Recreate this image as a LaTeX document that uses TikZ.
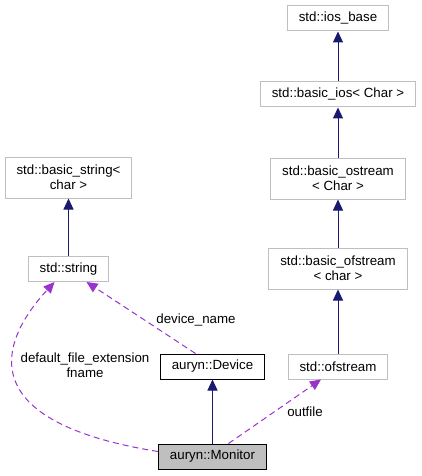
\documentclass[tikz,border=0pt]{standalone}
\usepackage{fontspec}
\setmainfont{Liberation Sans}
\usepackage{tikz}
\usetikzlibrary{arrows.meta, positioning, calc}

\definecolor{inhblue}{HTML}{191970}
\definecolor{usepurple}{HTML}{9A32CD}
\definecolor{boxgray}{HTML}{BFBFBF}

\begin{document}
\begin{tikzpicture}[
  x=1pt, y=-1pt,
  every node/.style={font=\fontsize{13.3}{15}\selectfont, align=center},
  box/.style={draw=boxgray, line width=1pt, fill=white, minimum height=25pt,
              inner xsep=11.5pt, inner ysep=3pt},
  twoline/.style={box, minimum height=41pt},
  classbox/.style={box, draw=black},
  selfbox/.style={box, draw=black, fill=boxgray},
  inh/.style={-{Triangle[length=11pt, width=10pt]}, inhblue, line width=1pt},
  usage/.style={-{Triangle[length=11pt, width=10pt]}, usepurple, line width=1pt,
                dash pattern=on 6pt off 4pt},
]
  \useasboundingbox (0,0) rectangle (421,476);

  % right column: stream hierarchy
  \node[box]     (iosbase)       at (338,18.5)  {std::ios\_base};
  \node[box]     (basicios)      at (338,94.5)  {std::basic\_ios< Char >};
  \node[twoline] (basicostream)  at (338,178.5) {std::basic\_ostream\\< Char >};
  \node[twoline] (basicofstream) at (338,268.5) {std::basic\_ofstream\\< char >};
  \node[box]     (ofstream)      at (338,366.5) {std::ofstream};

  % left column: strings
  \node[twoline] (basicstring) at (68.5,177.5) {std::basic\_string<\\char >};
  \node[box]     (string)      at (68.5,269)   {std::string};

  % auryn classes
  \node[classbox] (device)  at (212.5,366.5) {auryn::Device};
  \node[selfbox]  (monitor) at (212.5,456.5) {auryn::Monitor};

  % inheritance
  \draw[inh] (basicios.north)      -- (iosbase.south);
  \draw[inh] (basicostream.north)  -- (basicios.south);
  \draw[inh] (basicofstream.north) -- (basicostream.south);
  \draw[inh] (ofstream.north)      -- (basicofstream.south);
  \draw[inh] (string.north)        -- (basicstring.south);
  \draw[inh] (monitor.north)       -- (device.south);

  % usage
  \draw[usage] ($(monitor.west)+(0,-5)$)
    .. controls (-63,416) and (26,313) .. ($(string.south)+(-14,0)$);
  \draw[usage] ($(device.north)+(-17,0)$) -- ($(string.south)+(18,0)$);
  \draw[usage] ($(monitor.north)+(16,0)$) -- ($(ofstream.south)+(-17,0)$);

  \node (lblfname)   at (85,365)  {default\_file\_extension\\fname};
  \node (lbldevname) at (196,320) {device\_name};
  \node (lbloutfile) at (305,412) {outfile};
\end{tikzpicture}
\end{document}
